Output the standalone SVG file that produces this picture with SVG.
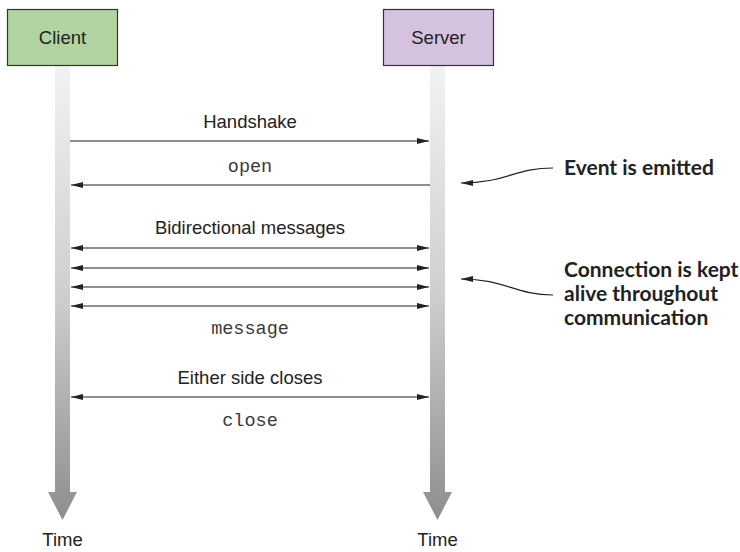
<svg xmlns="http://www.w3.org/2000/svg" width="740" height="552" viewBox="0 0 740 552">
  <defs>
    <linearGradient id="lifeGrad" gradientUnits="userSpaceOnUse" x1="0" y1="66" x2="0" y2="520">
      <stop offset="0" stop-color="#f2f2f2"/>
      <stop offset="0.5" stop-color="#cfcfd0"/>
      <stop offset="1" stop-color="#8e8e90"/>
    </linearGradient>
    <marker id="ah" markerUnits="userSpaceOnUse" markerWidth="12" markerHeight="8" refX="12" refY="4" orient="auto-start-reverse" viewBox="0 0 12 8">
      <path d="M0,1 L12,4 L0,7 Z" fill="#222"/>
    </marker>
    <marker id="ah2" markerUnits="userSpaceOnUse" markerWidth="12" markerHeight="8" refX="12" refY="4" orient="auto" viewBox="0 0 12 8">
      <path d="M0,1 L12,4 L0,7 Z" fill="#222"/>
    </marker>
  </defs>
  <style>
    .box { stroke: #333; stroke-width: 1.2; }
    .lbl { font-family: "Liberation Sans", Arial, sans-serif; font-size: 18.5px; fill: #222; text-anchor: middle; }
    .mono { font-family: "Liberation Mono", "Courier New", monospace; font-size: 18.5px; fill: #3a3a3a; text-anchor: middle; }
    .note { font-family: Lato, "Open Sans", sans-serif; font-weight: bold; font-size: 21px; fill: #222; }
    .msg { stroke: #222; stroke-width: 1.2; fill: none; }
    .curve { stroke: #222; stroke-width: 1.2; fill: none; }
    .life { fill: url(#lifeGrad); }
  </style>

  <g id="client-lifeline">
    <path class="life" d="M55,66 H70 V492 H77 L62.5,520 L48,492 H55 Z"/>
    <text class="lbl" x="62.5" y="546">Time</text>
  </g>
  <g id="server-lifeline">
    <path class="life" d="M430,66 H445 V492 H452 L437.5,520 L423,492 H430 Z"/>
    <text class="lbl" x="437.5" y="546">Time</text>
  </g>

  <g id="client">
    <rect class="box" x="7.5" y="9.5" width="110" height="56" fill="#b2d4a0"/>
    <text class="lbl" x="62.5" y="44">Client</text>
  </g>
  <g id="server">
    <rect class="box" x="383.5" y="9.5" width="110" height="56" fill="#d5c2de"/>
    <text class="lbl" x="438.5" y="44">Server</text>
  </g>

  <g id="connectors">
    <line class="msg" x1="70" y1="141" x2="429" y2="141" marker-end="url(#ah2)"/>
    <line class="msg" x1="430" y1="185" x2="71" y2="185" marker-end="url(#ah2)"/>
    <line class="msg" x1="71" y1="248" x2="429" y2="248" marker-start="url(#ah)" marker-end="url(#ah)"/>
    <line class="msg" x1="71" y1="268" x2="429" y2="268" marker-start="url(#ah)" marker-end="url(#ah)"/>
    <line class="msg" x1="71" y1="287" x2="429" y2="287" marker-start="url(#ah)" marker-end="url(#ah)"/>
    <line class="msg" x1="71" y1="306" x2="429" y2="306" marker-start="url(#ah)" marker-end="url(#ah)"/>
    <line class="msg" x1="71" y1="397" x2="429" y2="397" marker-start="url(#ah)" marker-end="url(#ah)"/>
    <path class="curve" d="M553,168 C515,168 505,183 461,183" marker-end="url(#ah2)"/>
    <path class="curve" d="M553,295 C515,295 505,279 461,279" marker-end="url(#ah2)"/>
  </g>

  <g id="labels">
    <text class="lbl" x="250" y="128">Handshake</text>
    <text class="mono" x="250" y="172">open</text>
    <text class="lbl" x="250" y="234">Bidirectional messages</text>
    <text class="mono" x="250" y="334">message</text>
    <text class="lbl" x="250" y="384">Either side closes</text>
    <text class="mono" x="250" y="426">close</text>
  </g>

  <g id="notes">
    <text class="note" x="564" y="175">Event is emitted</text>
    <text class="note" x="564" y="277">Connection is kept</text>
    <text class="note" x="564" y="301">alive throughout</text>
    <text class="note" x="564" y="325">communication</text>
  </g>
</svg>
